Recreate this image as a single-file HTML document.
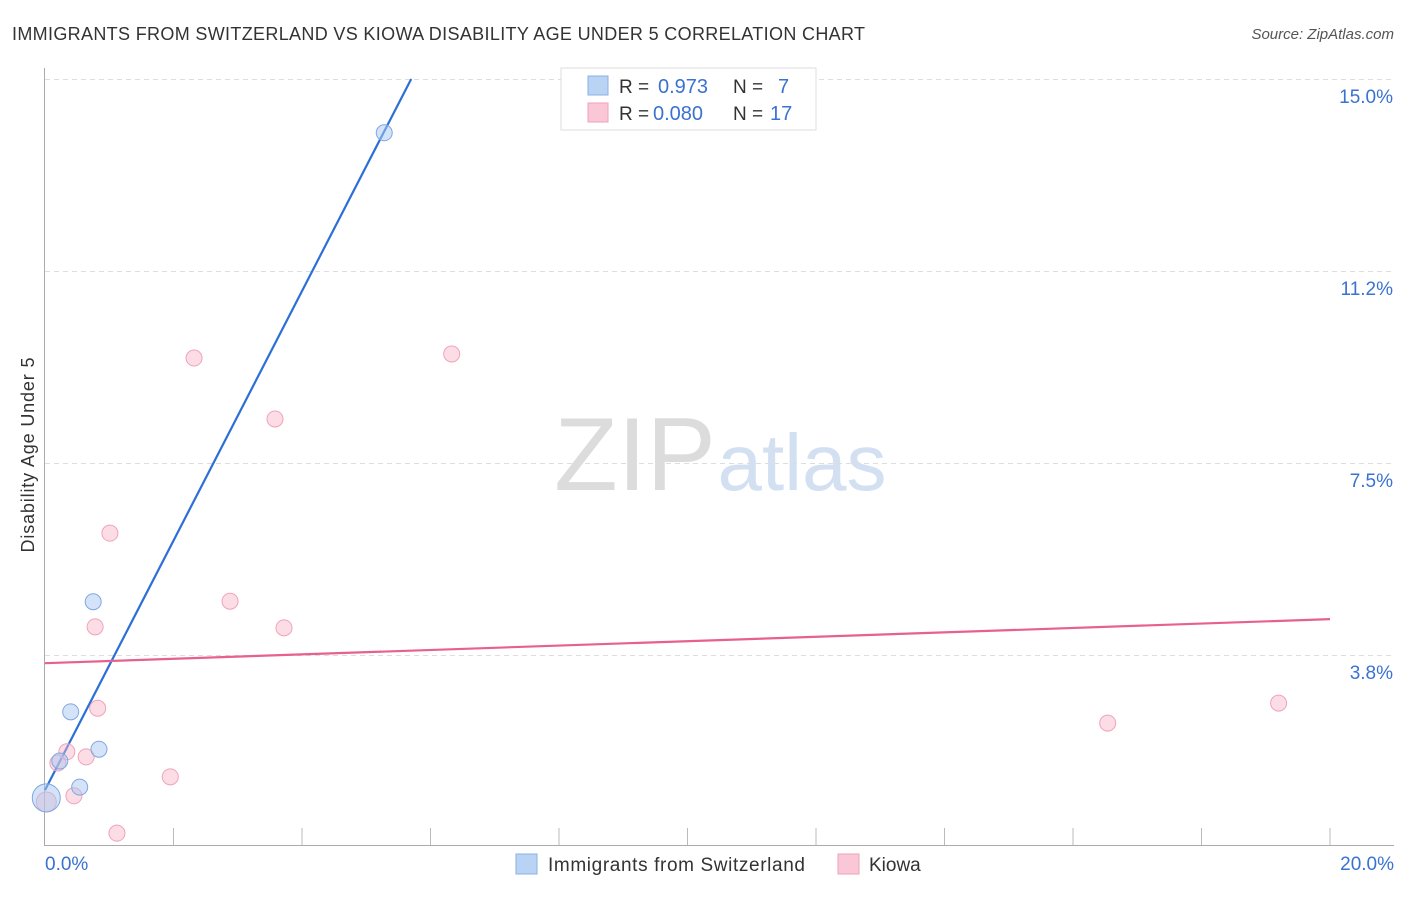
<!DOCTYPE html>
<html><head><meta charset="utf-8"><style>
body{margin:0;background:#fff;font-family:"Liberation Sans",sans-serif}
svg text{font-family:"Liberation Sans",sans-serif}
</style></head><body>
<svg id="chart" width="1406" height="892">
<text x="12" y="40" font-size="18" fill="#333" textLength="853">IMMIGRANTS FROM SWITZERLAND VS KIOWA DISABILITY AGE UNDER 5 CORRELATION CHART</text>
<text x="1394" y="39" font-size="15" fill="#555" font-style="italic" text-anchor="end">Source: ZipAtlas.com</text>
<text x="34" y="455" font-size="18" fill="#333" text-anchor="middle" textLength="195" transform="rotate(-90 34 455)">Disability Age Under 5</text>
<g>
<text x="635" y="490" font-size="104" fill="#dcdcdc" font-family="Liberation Serif" text-anchor="middle">ZIP</text>
<text x="802" y="490" font-size="80" fill="#d3e0f2" text-anchor="middle">atlas</text>
</g>
<g id="grid"></g><g id="axes"></g><g id="lines"></g><g id="points"></g>
<g>
<rect x="561" y="68" width="255" height="62" fill="#fff" stroke="#ddd"/>
<rect x="588" y="76" width="20" height="19" fill="#b9d3f5" stroke="#8ab0e6"/>
<rect x="588" y="103" width="20" height="19" fill="#fac7d7" stroke="#f0a2bb"/>
<text x="619" y="93" font-size="19" fill="#333">R =</text>
<text x="658" y="93" font-size="20" fill="#3a72d0">0.973</text>
<text x="733" y="93" font-size="19" fill="#333">N =</text>
<text x="778" y="93" font-size="20" fill="#3a72d0">7</text>
<text x="619" y="120" font-size="19" fill="#333">R =</text>
<text x="653" y="120" font-size="20" fill="#3a72d0">0.080</text>
<text x="733" y="120" font-size="19" fill="#333">N =</text>
<text x="770" y="120" font-size="20" fill="#3a72d0">17</text>
</g>
<g>
<rect x="516" y="854" width="21" height="20" fill="#b9d3f5" stroke="#8ab0e6"/>
<text x="548" y="871" font-size="19" fill="#333" textLength="257">Immigrants from Switzerland</text>
<rect x="838" y="854" width="21" height="20" fill="#fac7d7" stroke="#f0a2bb"/>
<text x="869" y="871" font-size="19" fill="#333">Kiowa</text>
</g>
</svg>
<script>
const yTicks=[3.75,7.5,11.25,15];
const yTickLabels=["3.8%","7.5%","11.2%","15.0%"];
const xTickLabels=["0.0%","20.0%"];
const blueX=[5.28,0.75,0.40,0.84,0.23,0.54,0.02];
const blueY=[13.95,4.79,2.64,1.91,1.68,1.17,0.96];
const blueR=[8,8,8,8,8,8,14];
const pinkX=[2.32,6.33,3.58,1.01,2.88,0.78,3.72,0.82,0.34,0.64,0.20,0.45,1.95,1.12,16.54,19.20,0.02];
const pinkY=[9.55,9.63,8.36,6.13,4.80,4.30,4.28,2.71,1.86,1.76,1.64,1.00,1.37,0.27,2.42,2.81,0.88];
const pinkR=[8,8,8,8,8,8,8,8,8,8,8,8,8,8,8,8,10];
const blueFit=[1.11,2.437];
const pinkFit=[3.59,0.043];
const X=v=>45+v/20*1285, Y=v=>847-v/3.75*192;
const NS="http://www.w3.org/2000/svg";
function mk(p,t,a){const e=document.createElementNS(NS,t);for(const k in a)e.setAttribute(k,a[k]);document.getElementById(p).appendChild(e);return e;}
yTicks.forEach((t,i)=>{
 const l=mk('grid','line',{x1:45,x2:1394,y1:Y(t)+0.5,y2:Y(t)+0.5,stroke:'#ddd','stroke-dasharray':'5,4'});
 
 
 const tx=mk('grid','text',{x:1393,y:Y(t)+24,'font-size':19,fill:'#3a72d0','text-anchor':'end'});
 tx.textContent=yTickLabels[i];
 
 
});
const ax=mk('axes','path',{d:'M44.5 68V845.5H1394',stroke:'#aaa',fill:'none'});


for(let i=1;i<=10;i++){const t=mk('axes','line',{x1:X(i*2),x2:X(i*2),y1:828,y2:845,stroke:'#bbb'});
 
 }
[[0,'start',45],[20,'end',1394]].forEach((d,i)=>{const t=mk('axes','text',{x:d[2],y:870,'font-size':19,fill:'#3a72d0','text-anchor':d[1]});t.textContent=xTickLabels[i];
 
 });
const bx2=(15-blueFit[0])/blueFit[1];
const bl=mk('lines','line',{x1:X(0),y1:Y(blueFit[0]),x2:X(bx2),y2:Y(15),stroke:'#2c6fd6','stroke-width':2.2});


const pl=mk('lines','line',{x1:X(0),y1:Y(pinkFit[0]),x2:X(20),y2:Y(pinkFit[0]+20*pinkFit[1]),stroke:'#e8608c','stroke-width':2.2});


pinkX.forEach((x,i)=>{const c=mk('points','circle',{cx:X(x),cy:Y(pinkY[i]),r:pinkR[i],fill:'rgba(248,180,200,0.45)',stroke:'#f0a2bb'});
 
 });
blueX.forEach((x,i)=>{const c=mk('points','circle',{cx:X(x),cy:Y(blueY[i]),r:blueR[i],fill:'rgba(170,200,240,0.5)',stroke:'#7fa8e2'});
 
 });
</script>
</body></html>
